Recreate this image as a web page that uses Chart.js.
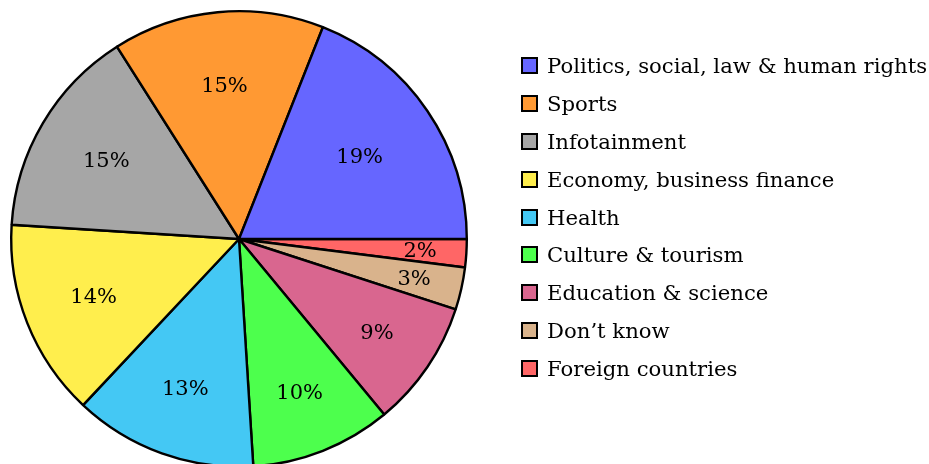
<!DOCTYPE html>
<html>
<head>
<meta charset="utf-8">
<script src="https://cdn.jsdelivr.net/npm/chart.js@4.4.1/dist/chart.umd.min.js"></script>
<style>
  html, body { margin: 0; padding: 0; background: #fff; overflow: hidden; }
  #wrap { position: relative; width: 929px; height: 464px; overflow: hidden; }
  #myChart { position: absolute; left: 0; top: 0; }
  #legend { position: absolute; left: 521px; top: 47px; font-family: "DejaVu Serif", serif; font-size: 21.2px; color: #000; }
  .item { height: 37.8px; display: flex; align-items: center; white-space: nowrap; }
  .box { width: 13px; height: 13px; border: 2px solid #000; margin-right: 9px; flex: none; }
</style>
</head>
<body>
<div id="wrap">
  <canvas id="myChart" width="929" height="478"></canvas>
  <div id="legend"></div>
</div>
<script>
// legend order (counter-clockwise from 3 o'clock in the picture)
var categories = ['Politics, social, law & human rights', 'Sports', 'Infotainment', 'Economy, business finance',
	'Health', 'Culture & tourism', 'Education & science', 'Don\u2019t know', 'Foreign countries'];
var shares = [19, 15, 15, 14, 13, 10, 9, 3, 2];
var colors = ['#6666FF', '#FF9933', '#A6A6A6', '#FFEE4D', '#44C8F4', '#4DFF4D', '#D9668F', '#D9B38C', '#FF6666'];

var chart;

window.onload = function() {
	buildLegend();
	initializeChart();
};

function buildLegend(){
	var legend = document.getElementById('legend');
	for (var i = 0; i < categories.length; i++) {
		var row = document.createElement('div');
		row.className = 'item';
		var box = document.createElement('span');
		box.className = 'box';
		box.style.background = colors[i];
		var txt = document.createElement('span');
		txt.textContent = categories[i];
		row.appendChild(box);
		row.appendChild(txt);
		legend.appendChild(row);
	}
}

// percent labels inside the slices, small slices pushed further out
var pctLabels = {
	id: 'pctLabels',
	afterDatasetsDraw: function(c) {
		var ctx = c.ctx;
		var meta = c.getDatasetMeta(0);
		ctx.save();
		ctx.font = '21px "DejaVu Serif", serif';
		ctx.fillStyle = '#000';
		ctx.textAlign = 'center';
		ctx.textBaseline = 'middle';
		meta.data.forEach(function(arc, i) {
			var v = c.data.datasets[0].data[i];
			var mid = (arc.startAngle + arc.endAngle) / 2;
			var r = arc.outerRadius * (0.815 - 0.0092 * v);
			ctx.fillText(v + '%', arc.x + Math.cos(mid) * r, arc.y + Math.sin(mid) * r + 1);
		});
		ctx.restore();
	}
};

function initializeChart(){
	// chart.js goes clockwise, the picture goes counter-clockwise -> reverse
	var data = shares.slice().reverse();
	var bg = colors.slice().reverse();
	var labels = categories.slice().reverse();

	const ctx = document.getElementById('myChart').getContext('2d');
	chart = new Chart(ctx, {
		type: 'pie',
		data: {
			labels: labels,
			datasets: [{
				data: data,
				backgroundColor: bg,
				borderColor: '#000',
				borderWidth: 2.4
			}]
		},
		options: {
			responsive: false,
			animation: false,
			rotation: 90,
			layout: { padding: { left: 10, top: 10, bottom: 10, right: 461 } },
			plugins: {
				legend: { display: false },
				tooltip: { enabled: false }
			}
		},
		plugins: [pctLabels]
	});
}
</script>
</body>
</html>
